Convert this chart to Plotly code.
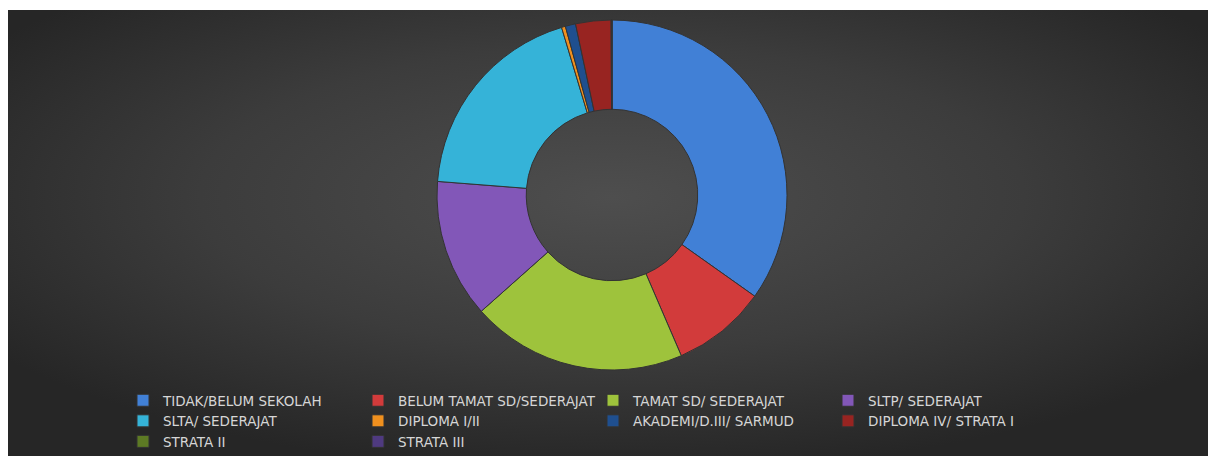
import base64
import plotly.graph_objects as go

categories = [
    "TIDAK/BELUM SEKOLAH",
    "BELUM TAMAT SD/SEDERAJAT",
    "TAMAT SD/ SEDERAJAT",
    "SLTP/ SEDERAJAT",
    "SLTA/ SEDERAJAT",
    "DIPLOMA I/II",
    "AKADEMI/D.III/ SARMUD",
    "DIPLOMA IV/ STRATA I",
    "STRATA II",
    "STRATA III",
]
values = [3480, 870, 1990, 1280, 1910, 36, 95, 326, 7, 1]
colors = [
    "#4180d6", "#d23b3b", "#9ec33c", "#8257b8", "#35b3d8",
    "#f0901e", "#1f4f8f", "#982421", "#5d7a24", "#4f3a80",
]

# page body keeps an 8px margin, so the figure is sized to fit the window
W, H = 1208, 448
ML, MR = 100, 108          # plot area 1000px wide -> legend wraps at 4 columns
PW = W - ML - MR
TOPGAP = 2                 # extra white strip above the dark panel


def px(fx):
    return (fx - ML) / PW


def py(fy):
    return 1 - fy / H


svg = f'''<svg xmlns="http://www.w3.org/2000/svg" width="{W}" height="{H - TOPGAP}" preserveAspectRatio="none">
<defs><radialGradient id="g" cx="0.5" cy="0.42" r="0.62" gradientUnits="objectBoundingBox">
<stop offset="0" stop-color="#4e4e4e"/><stop offset="0.55" stop-color="#3c3c3c"/><stop offset="1" stop-color="#262626"/>
</radialGradient></defs>
<rect width="100%" height="100%" fill="url(#g)"/></svg>'''
src = "data:image/svg+xml;base64," + base64.b64encode(svg.encode()).decode()

cx, cy, R = 604, 187, 175
fig = go.Figure(
    go.Pie(
        labels=categories,
        values=values,
        marker=dict(colors=colors, line=dict(color="#333333", width=1)),
        hole=0.49,
        sort=False,
        direction="clockwise",
        rotation=0,
        textinfo="none",
        domain=dict(x=[px(cx - 1.3 * R), px(cx + 1.3 * R)], y=[py(cy + R), py(cy - R)]),
    )
)

fig.update_layout(
    width=W,
    height=H,
    margin=dict(l=ML, r=MR, t=0, b=0, autoexpand=False),
    paper_bgcolor="white",
    plot_bgcolor="rgba(0,0,0,0)",
    images=[dict(source=src, xref="paper", yref="paper", x=px(0), y=py(TOPGAP),
                 sizex=W / PW, sizey=(H - TOPGAP) / H, xanchor="left", yanchor="top",
                 sizing="stretch", layer="below")],
    legend=dict(
        orientation="h",
        x=px(115),
        xanchor="left",
        y=py(377),
        yanchor="top",
        entrywidth=190,
        entrywidthmode="pixels",
        font=dict(family="DejaVu Sans, sans-serif", size=13.5, color="#d6d6d6"),
        bgcolor="rgba(0,0,0,0)",
        traceorder="normal",
    ),
    showlegend=True,
)

fig.write_html("out.html")
